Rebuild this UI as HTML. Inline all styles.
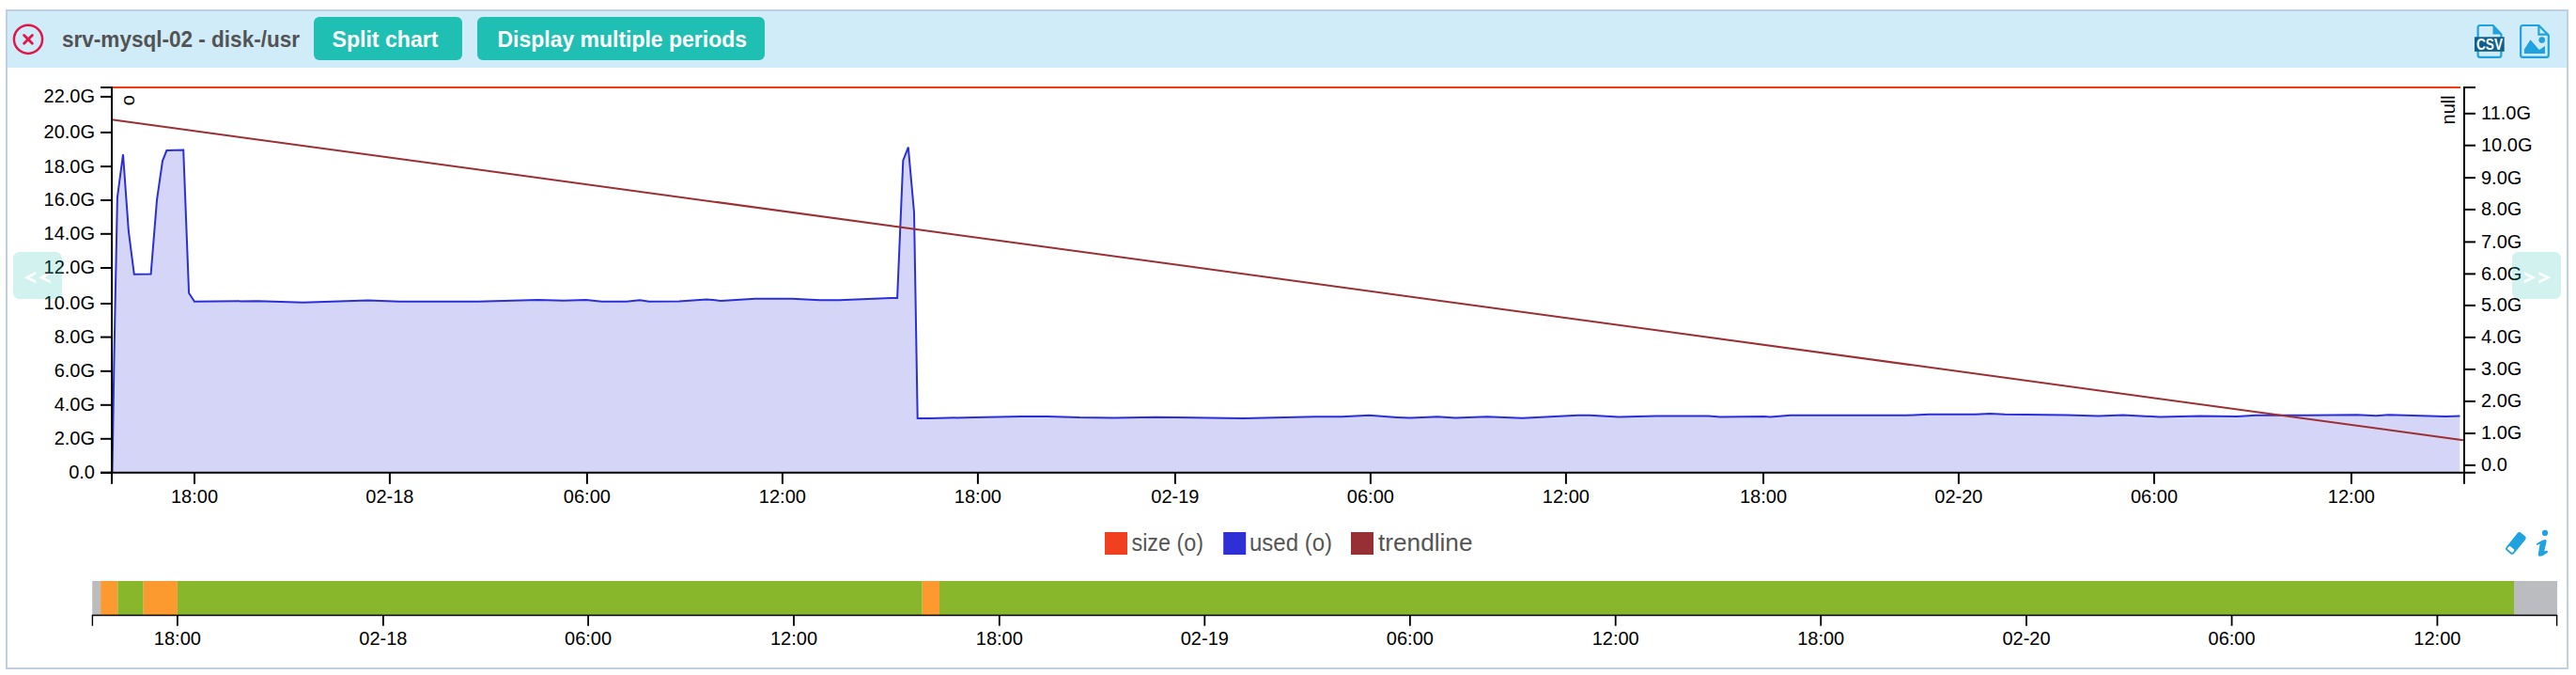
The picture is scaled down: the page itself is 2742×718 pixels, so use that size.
<!DOCTYPE html><html><head><meta charset="utf-8"><style>
html,body{margin:0;padding:0;background:#fff;width:2742px;height:718px;overflow:hidden;}
svg{position:absolute;left:0;top:0;display:block;}
text{font-family:"Liberation Sans",sans-serif;}
</style></head><body>
<svg width="2742" height="718" viewBox="0 0 2742 718">
<rect x="7" y="11" width="2726" height="700" fill="#fff" stroke="#bfd0e2" stroke-width="2"/>
<rect x="8" y="12" width="2724" height="60" fill="#d0ecf8"/>
<circle cx="30" cy="41.8" r="15.1" fill="none" stroke="#e0174a" stroke-width="2.5"/>
<path d="M25.6 37.4 L34.4 46.2 M34.4 37.4 L25.6 46.2" stroke="#e0174a" stroke-width="2.8" stroke-linecap="round"/>
<text x="66" y="50" font-size="24" font-weight="bold" fill="#535353" textLength="253" lengthAdjust="spacingAndGlyphs">srv-mysql-02 - disk-/usr</text>
<rect x="334" y="18" width="158" height="46" rx="6" fill="#1fbfb3"/>
<text x="353.5" y="50" font-size="23.5" font-weight="bold" fill="#fff" textLength="113" lengthAdjust="spacingAndGlyphs">Split chart</text>
<rect x="508" y="18" width="306" height="46" rx="6" fill="#1fbfb3"/>
<text x="529.5" y="50" font-size="23.5" font-weight="bold" fill="#fff" textLength="265.5" lengthAdjust="spacingAndGlyphs">Display multiple periods</text>
<path d="M2640 27 H2653.5 L2662.4 36.5 V58.4 Q2662.4 60.8 2660 60.8 H2640 Q2637.6 60.8 2637.6 58.4 V29.4 Q2637.6 27 2640 27 Z" fill="none" stroke="#1fa2df" stroke-width="2.2" stroke-linejoin="round"/>
<path d="M2653.5 26 L2663.5 36.5 H2653.5 Z" fill="#1fa2df"/>
<rect x="2634" y="39.3" width="31.7" height="15.5" fill="#0e5f8c"/>
<text x="2636" y="53.3" font-size="16.5" font-weight="bold" fill="#fff" textLength="28" lengthAdjust="spacingAndGlyphs">CSV</text>
<path d="M2685.5 27 H2702.4 L2712.8 37.5 V58.4 Q2712.8 60.8 2710.4 60.8 H2685.5 Q2683.1 60.8 2683.1 58.4 V29.4 Q2683.1 27 2685.5 27 Z" fill="none" stroke="#1fa2df" stroke-width="2.2" stroke-linejoin="round"/>
<path d="M2702.4 27 V36.7 H2712.8" fill="none" stroke="#1fa2df" stroke-width="2.2"/>
<path d="M2686.9 52.6 L2693.5 42.2 L2702.8 53 L2709 48.9 V57 H2686.9 Z" fill="#1fa2df"/>
<circle cx="2705.7" cy="42.6" r="3.3" fill="#1fa2df"/>
<path d="M119.5,502.8 L119.5,502.8 L121.5,380 L124.9,210 L131,164.2 L136.9,246 L142.8,291.8 L160.6,291.6 L167,212.8 L173,171.1 L177.4,160.1 L195.2,159.5 L201.1,311.7 L207,320.8 L274.5,320.2 L322.7,321.7 L391.8,319.4 L425.2,320.7 L509,320.7 L572.7,319 L600,319.7 L623.8,318.9 L640.5,320.7 L667,320.7 L681,319.3 L690.8,320.7 L723,320.4 L752.3,318.4 L767.7,320 L804,317.7 L843,317.7 L872.5,319.3 L893.5,319.3 L954.3,316.8 L955.1,317 L961.3,170.7 L966.8,156.6 L973,226 L976.7,444.9 L989,444.9 L1037,444 L1087,442.9 L1115,442.9 L1149,444.1 L1186,444.4 L1230,443.7 L1323,444.9 L1400,443.3 L1428,443.3 L1457.5,441.8 L1487,443.9 L1501,444.6 L1530,443.3 L1549,444.4 L1583,443.3 L1620.5,444.7 L1679.5,441.8 L1692,441.8 L1723,443.6 L1763,442.4 L1818.6,442.4 L1831,443.6 L1877.6,442.9 L1884.6,443.6 L1905.6,441.8 L2029.8,441.8 L2053,440.8 L2102.8,440.8 L2118.3,439.9 L2133.9,440.8 L2200,441.5 L2234,442.4 L2260,441.6 L2299,443.4 L2341.8,442.4 L2381,443.1 L2401.5,441.7 L2456,441.7 L2509,441.2 L2529.6,442.2 L2543,441.2 L2603,442.9 L2618.4,442.6 L2618.4,502.8 Z" fill="#2f2fd6" fill-opacity="0.2" stroke="none"/>
<path d="M119.5,502.8 L121.5,380 L124.9,210 L131,164.2 L136.9,246 L142.8,291.8 L160.6,291.6 L167,212.8 L173,171.1 L177.4,160.1 L195.2,159.5 L201.1,311.7 L207,320.8 L274.5,320.2 L322.7,321.7 L391.8,319.4 L425.2,320.7 L509,320.7 L572.7,319 L600,319.7 L623.8,318.9 L640.5,320.7 L667,320.7 L681,319.3 L690.8,320.7 L723,320.4 L752.3,318.4 L767.7,320 L804,317.7 L843,317.7 L872.5,319.3 L893.5,319.3 L954.3,316.8 L955.1,317 L961.3,170.7 L966.8,156.6 L973,226 L976.7,444.9 L989,444.9 L1037,444 L1087,442.9 L1115,442.9 L1149,444.1 L1186,444.4 L1230,443.7 L1323,444.9 L1400,443.3 L1428,443.3 L1457.5,441.8 L1487,443.9 L1501,444.6 L1530,443.3 L1549,444.4 L1583,443.3 L1620.5,444.7 L1679.5,441.8 L1692,441.8 L1723,443.6 L1763,442.4 L1818.6,442.4 L1831,443.6 L1877.6,442.9 L1884.6,443.6 L1905.6,441.8 L2029.8,441.8 L2053,440.8 L2102.8,440.8 L2118.3,439.9 L2133.9,440.8 L2200,441.5 L2234,442.4 L2260,441.6 L2299,443.4 L2341.8,442.4 L2381,443.1 L2401.5,441.7 L2456,441.7 L2509,441.2 L2529.6,442.2 L2543,441.2 L2603,442.9 L2618.4,442.6" fill="none" stroke="#2b2fd8" stroke-width="2" stroke-linejoin="miter"/>
<line x1="119" y1="93.1" x2="2619" y2="93.1" stroke="#f03a14" stroke-width="2"/>
<line x1="119" y1="127.3" x2="2622" y2="468.2" stroke="#9c2f33" stroke-width="2"/>
<path d="M107,93.1 H119 V502.8 H107" fill="none" stroke="#000" stroke-width="2"/>
<line x1="107" y1="502.8" x2="119" y2="502.8" stroke="#000" stroke-width="2"/>
<text x="101" y="509.2" font-size="20" text-anchor="end" fill="#000">0.0</text>
<line x1="107" y1="466.8" x2="119" y2="466.8" stroke="#000" stroke-width="2"/>
<text x="101" y="473.2" font-size="20" text-anchor="end" fill="#000">2.0G</text>
<line x1="107" y1="430.8" x2="119" y2="430.8" stroke="#000" stroke-width="2"/>
<text x="101" y="437.2" font-size="20" text-anchor="end" fill="#000">4.0G</text>
<line x1="107" y1="394.8" x2="119" y2="394.8" stroke="#000" stroke-width="2"/>
<text x="101" y="401.2" font-size="20" text-anchor="end" fill="#000">6.0G</text>
<line x1="107" y1="358.6" x2="119" y2="358.6" stroke="#000" stroke-width="2"/>
<text x="101" y="365" font-size="20" text-anchor="end" fill="#000">8.0G</text>
<line x1="107" y1="323" x2="119" y2="323" stroke="#000" stroke-width="2"/>
<text x="101" y="329.4" font-size="20" text-anchor="end" fill="#000">10.0G</text>
<line x1="107" y1="285" x2="119" y2="285" stroke="#000" stroke-width="2"/>
<text x="101" y="291.4" font-size="20" text-anchor="end" fill="#000">12.0G</text>
<line x1="107" y1="248.8" x2="119" y2="248.8" stroke="#000" stroke-width="2"/>
<text x="101" y="255.2" font-size="20" text-anchor="end" fill="#000">14.0G</text>
<line x1="107" y1="213" x2="119" y2="213" stroke="#000" stroke-width="2"/>
<text x="101" y="219.4" font-size="20" text-anchor="end" fill="#000">16.0G</text>
<line x1="107" y1="177.1" x2="119" y2="177.1" stroke="#000" stroke-width="2"/>
<text x="101" y="183.5" font-size="20" text-anchor="end" fill="#000">18.0G</text>
<line x1="107" y1="140.9" x2="119" y2="140.9" stroke="#000" stroke-width="2"/>
<text x="101" y="147.3" font-size="20" text-anchor="end" fill="#000">20.0G</text>
<line x1="107" y1="102.9" x2="119" y2="102.9" stroke="#000" stroke-width="2"/>
<text x="101" y="109.3" font-size="20" text-anchor="end" fill="#000">22.0G</text>
<path d="M2635,93.1 H2623 V502.8 H2635" fill="none" stroke="#000" stroke-width="2"/>
<line x1="2623" y1="494.9" x2="2635" y2="494.9" stroke="#000" stroke-width="2"/>
<text x="2641" y="501.3" font-size="20" fill="#000">0.0</text>
<line x1="2623" y1="461" x2="2635" y2="461" stroke="#000" stroke-width="2"/>
<text x="2641" y="467.4" font-size="20" fill="#000">1.0G</text>
<line x1="2623" y1="426.9" x2="2635" y2="426.9" stroke="#000" stroke-width="2"/>
<text x="2641" y="433.3" font-size="20" fill="#000">2.0G</text>
<line x1="2623" y1="392.9" x2="2635" y2="392.9" stroke="#000" stroke-width="2"/>
<text x="2641" y="399.3" font-size="20" fill="#000">3.0G</text>
<line x1="2623" y1="358.9" x2="2635" y2="358.9" stroke="#000" stroke-width="2"/>
<text x="2641" y="365.3" font-size="20" fill="#000">4.0G</text>
<line x1="2623" y1="324.9" x2="2635" y2="324.9" stroke="#000" stroke-width="2"/>
<text x="2641" y="331.3" font-size="20" fill="#000">5.0G</text>
<line x1="2623" y1="291.4" x2="2635" y2="291.4" stroke="#000" stroke-width="2"/>
<text x="2641" y="297.8" font-size="20" fill="#000">6.0G</text>
<line x1="2623" y1="257.4" x2="2635" y2="257.4" stroke="#000" stroke-width="2"/>
<text x="2641" y="263.8" font-size="20" fill="#000">7.0G</text>
<line x1="2623" y1="222.9" x2="2635" y2="222.9" stroke="#000" stroke-width="2"/>
<text x="2641" y="229.3" font-size="20" fill="#000">8.0G</text>
<line x1="2623" y1="189.1" x2="2635" y2="189.1" stroke="#000" stroke-width="2"/>
<text x="2641" y="195.5" font-size="20" fill="#000">9.0G</text>
<line x1="2623" y1="154.7" x2="2635" y2="154.7" stroke="#000" stroke-width="2"/>
<text x="2641" y="161.1" font-size="20" fill="#000">10.0G</text>
<line x1="2623" y1="120.8" x2="2635" y2="120.8" stroke="#000" stroke-width="2"/>
<text x="2641" y="127.2" font-size="20" fill="#000">11.0G</text>
<text transform="translate(143,101) rotate(-90)" font-size="20" text-anchor="end" fill="#000">o</text>
<text transform="translate(2613,101.3) rotate(-90)" font-size="20" text-anchor="end" fill="#000">null</text>
<path d="M119,514.8 V502.8 H2623 V514.8" fill="none" stroke="#000" stroke-width="2"/>
<line x1="207" y1="502.8" x2="207" y2="514.8" stroke="#000" stroke-width="2"/>
<text x="207" y="535" font-size="20" text-anchor="middle" fill="#000">18:00</text>
<line x1="414.9" y1="502.8" x2="414.9" y2="514.8" stroke="#000" stroke-width="2"/>
<text x="414.9" y="535" font-size="20" text-anchor="middle" fill="#000">02-18</text>
<line x1="624.9" y1="502.8" x2="624.9" y2="514.8" stroke="#000" stroke-width="2"/>
<text x="624.9" y="535" font-size="20" text-anchor="middle" fill="#000">06:00</text>
<line x1="832.9" y1="502.8" x2="832.9" y2="514.8" stroke="#000" stroke-width="2"/>
<text x="832.9" y="535" font-size="20" text-anchor="middle" fill="#000">12:00</text>
<line x1="1040.9" y1="502.8" x2="1040.9" y2="514.8" stroke="#000" stroke-width="2"/>
<text x="1040.9" y="535" font-size="20" text-anchor="middle" fill="#000">18:00</text>
<line x1="1250.9" y1="502.8" x2="1250.9" y2="514.8" stroke="#000" stroke-width="2"/>
<text x="1250.9" y="535" font-size="20" text-anchor="middle" fill="#000">02-19</text>
<line x1="1458.9" y1="502.8" x2="1458.9" y2="514.8" stroke="#000" stroke-width="2"/>
<text x="1458.9" y="535" font-size="20" text-anchor="middle" fill="#000">06:00</text>
<line x1="1666.9" y1="502.8" x2="1666.9" y2="514.8" stroke="#000" stroke-width="2"/>
<text x="1666.9" y="535" font-size="20" text-anchor="middle" fill="#000">12:00</text>
<line x1="1877" y1="502.8" x2="1877" y2="514.8" stroke="#000" stroke-width="2"/>
<text x="1877" y="535" font-size="20" text-anchor="middle" fill="#000">18:00</text>
<line x1="2084.9" y1="502.8" x2="2084.9" y2="514.8" stroke="#000" stroke-width="2"/>
<text x="2084.9" y="535" font-size="20" text-anchor="middle" fill="#000">02-20</text>
<line x1="2293" y1="502.8" x2="2293" y2="514.8" stroke="#000" stroke-width="2"/>
<text x="2293" y="535" font-size="20" text-anchor="middle" fill="#000">06:00</text>
<line x1="2502.9" y1="502.8" x2="2502.9" y2="514.8" stroke="#000" stroke-width="2"/>
<text x="2502.9" y="535" font-size="20" text-anchor="middle" fill="#000">12:00</text>
<g opacity="0.2"><rect x="14" y="268" width="52" height="50" rx="6.5" fill="#1fbfb3"/><path d="M25.8,295.15 L38.3,288.7 L38.3,291.8 L31.6,295.15 L38.3,298.5 L38.3,301.6 Z M41.2,295.15 L53.8,288.7 L53.8,291.8 L47,295.15 L53.8,298.5 L53.8,301.6 Z" fill="#fff"/></g>
<g opacity="0.2"><rect x="2674" y="268" width="52" height="50" rx="6.5" fill="#1fbfb3"/><path d="M2699.3,295.25 L2686.7,289 L2686.7,292.1 L2693.5,295.25 L2686.7,298.4 L2686.7,301.5 Z M2715.2,295.25 L2702.5,289 L2702.5,292.1 L2709.4,295.25 L2702.5,298.4 L2702.5,301.5 Z" fill="#fff"/></g>
<rect x="1176" y="566" width="24" height="24" fill="#f0401f"/>
<text x="1204.5" y="585.5" font-size="25.5" fill="#555" textLength="76.5" lengthAdjust="spacingAndGlyphs">size (o)</text>
<rect x="1302.2" y="566" width="24" height="24" fill="#2f2fd6"/>
<text x="1330" y="585.5" font-size="25.5" fill="#555" textLength="88" lengthAdjust="spacingAndGlyphs">used (o)</text>
<rect x="1438" y="566" width="24" height="24" fill="#963035"/>
<text x="1467" y="585.5" font-size="25.5" fill="#555" textLength="100.5" lengthAdjust="spacingAndGlyphs">trendline</text>
<g transform="translate(2677.9,577.9) rotate(-51)"><rect x="-12.2" y="-5.4" width="24.4" height="10.8" rx="3" fill="#1fa2df"/><rect x="-10.4" y="-3.6" width="4.2" height="7.2" rx="1.2" fill="#fff"/></g>
<circle cx="2709" cy="566.9" r="3.1" fill="#1fa2df"/>
<path d="M2699.8,578.6 C2703,576.2 2706.5,574.2 2709.2,574 C2710.6,574 2710.8,575 2710.5,576.5 L2708.2,586.5 C2709.5,586 2710.8,585.4 2711.8,586.2 C2712.3,586.8 2711.8,587.6 2711,588.2 C2708.5,590 2705.5,591.8 2703.5,591.8 C2702,591.8 2701.5,590.8 2701.8,589.6 L2703.6,578.4 C2702.5,578.8 2701.3,579.5 2700.5,580.1 Z" fill="#1fa2df"/>
<rect x="98.2" y="618" width="8.9" height="36" fill="#bbbcc0"/>
<rect x="107.1" y="618" width="18.2" height="36" fill="#fd9a2f"/>
<rect x="125.3" y="618" width="27.4" height="36" fill="#89b72c"/>
<rect x="152.7" y="618" width="36.2" height="36" fill="#fd9a2f"/>
<rect x="188.9" y="618" width="792.8" height="36" fill="#89b72c"/>
<rect x="981.7" y="618" width="18.3" height="36" fill="#fd9a2f"/>
<rect x="1000" y="618" width="1676" height="36" fill="#89b72c"/>
<rect x="2676" y="618" width="46" height="36" fill="#bbbcc0"/>
<path d="M98.4,665.7 V654.5 H2721.6 V665.7" fill="none" stroke="#000" stroke-width="1.4"/>
<line x1="188.9" y1="654.4" x2="188.9" y2="665.7" stroke="#000" stroke-width="1.8"/>
<text x="188.9" y="686" font-size="20" text-anchor="middle" fill="#000">18:00</text>
<line x1="407.9" y1="654.4" x2="407.9" y2="665.7" stroke="#000" stroke-width="1.8"/>
<text x="407.9" y="686" font-size="20" text-anchor="middle" fill="#000">02-18</text>
<line x1="626.1" y1="654.4" x2="626.1" y2="665.7" stroke="#000" stroke-width="1.8"/>
<text x="626.1" y="686" font-size="20" text-anchor="middle" fill="#000">06:00</text>
<line x1="845" y1="654.4" x2="845" y2="665.7" stroke="#000" stroke-width="1.8"/>
<text x="845" y="686" font-size="20" text-anchor="middle" fill="#000">12:00</text>
<line x1="1063.8" y1="654.4" x2="1063.8" y2="665.7" stroke="#000" stroke-width="1.8"/>
<text x="1063.8" y="686" font-size="20" text-anchor="middle" fill="#000">18:00</text>
<line x1="1282.3" y1="654.4" x2="1282.3" y2="665.7" stroke="#000" stroke-width="1.8"/>
<text x="1282.3" y="686" font-size="20" text-anchor="middle" fill="#000">02-19</text>
<line x1="1500.9" y1="654.4" x2="1500.9" y2="665.7" stroke="#000" stroke-width="1.8"/>
<text x="1500.9" y="686" font-size="20" text-anchor="middle" fill="#000">06:00</text>
<line x1="1719.7" y1="654.4" x2="1719.7" y2="665.7" stroke="#000" stroke-width="1.8"/>
<text x="1719.7" y="686" font-size="20" text-anchor="middle" fill="#000">12:00</text>
<line x1="1938.2" y1="654.4" x2="1938.2" y2="665.7" stroke="#000" stroke-width="1.8"/>
<text x="1938.2" y="686" font-size="20" text-anchor="middle" fill="#000">18:00</text>
<line x1="2157" y1="654.4" x2="2157" y2="665.7" stroke="#000" stroke-width="1.8"/>
<text x="2157" y="686" font-size="20" text-anchor="middle" fill="#000">02-20</text>
<line x1="2375.6" y1="654.4" x2="2375.6" y2="665.7" stroke="#000" stroke-width="1.8"/>
<text x="2375.6" y="686" font-size="20" text-anchor="middle" fill="#000">06:00</text>
<line x1="2594.4" y1="654.4" x2="2594.4" y2="665.7" stroke="#000" stroke-width="1.8"/>
<text x="2594.4" y="686" font-size="20" text-anchor="middle" fill="#000">12:00</text>
</svg></body></html>
